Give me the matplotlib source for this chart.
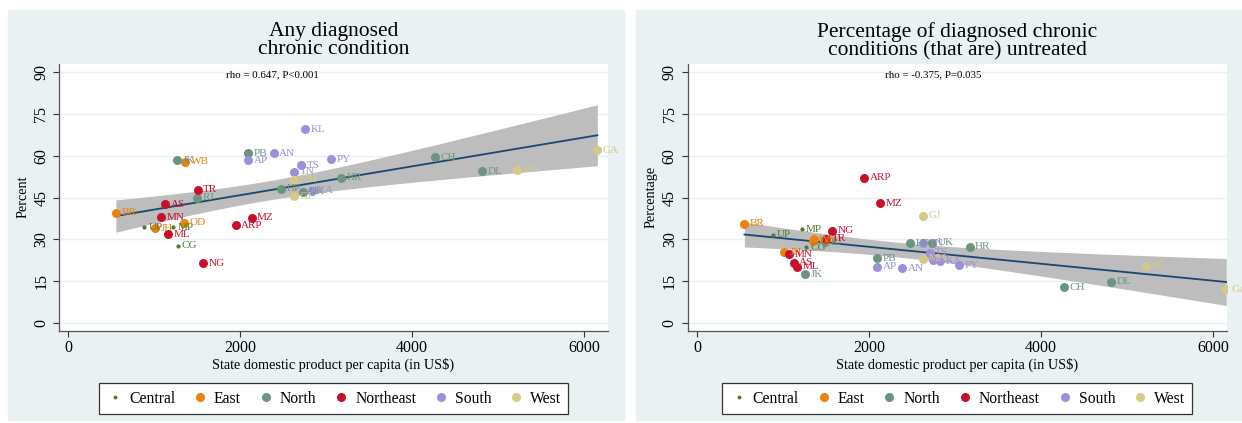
import numpy as np
import matplotlib
matplotlib.use("Agg")
import matplotlib.pyplot as plt
from matplotlib.patches import Rectangle
from matplotlib.lines import Line2D

plt.rcParams["font.family"] = ["Liberation Serif", "DejaVu Serif"]

# state codes, region and GDP per capita (US$)
states = ["UP", "MP", "CG",
          "BR", "JH", "OD", "WB",
          "JK", "PB", "HP", "UK", "HR", "DL", "CH", "RJ",
          "AS", "MN", "ML", "TR", "NG", "MZ", "ARP",
          "AP", "AN", "KL", "PY", "TS", "TN", "KA",
          "MH", "GJ", "GA", "SK"]
region = ["Central"] * 3 + ["East"] * 4 + ["North"] * 8 + ["Northeast"] * 7 + ["South"] * 7 + ["West"] * 4
sdp = [883, 1222, 1270,
       552, 1013, 1345, 1360,
       1262, 2095, 2474, 2733, 3170, 4818, 4267, 1492,
       1126, 1074, 1160, 1505, 1570, 2132, 1948,
       2093, 2390, 2750, 3052, 2707, 2629, 2831,
       2629, 2625, 6156, 5225]

# any diagnosed chronic condition (%)
any_diag = [34.3, 34.3, 27.7,
            39.5, 34.0, 36.0, 57.8,
            58.4, 60.9, 48.2, 47.0, 52.1, 54.4, 59.4, 44.9,
            42.6, 37.9, 31.8, 47.8, 21.5, 37.8, 35.0,
            58.4, 60.9, 69.4, 58.7, 56.6, 54.2, 47.4,
            51.3, 45.4, 61.9, 54.9]

# untreated among diagnosed (%)
untreated = [31.7, 33.7, 27.2,
             35.6, 25.5, 29.4, 30.0,
             17.6, 23.2, 28.6, 28.9, 27.4, 14.8, 12.9, 29.0,
             21.6, 24.7, 20.2, 30.2, 33.1, 43.0, 52.0,
             20.3, 19.7, 22.8, 20.7, 25.2, 28.6, 22.2,
             23.1, 38.5, 12.2, 20.5]

regions = ["Central", "East", "North", "Northeast", "South", "West"]
colors = {"Central": "#4f7a32", "East": "#e8830f", "North": "#6b9481",
          "Northeast": "#c8102e", "South": "#9c90dc", "West": "#d5c98a"}

panels = [
    dict(y=any_diag, title="Any diagnosed\nchronic condition", ylabel="Percent",
         note="rho = 0.647, P<0.001", note_x=2370, xmax=6280),
    dict(y=untreated, title="Percentage of diagnosed chronic\nconditions (that are) untreated",
         ylabel="Percentage", note="rho = -0.375, P=0.035", note_x=2745, xmax=6165),
]

W, H = 1242, 423
fig = plt.figure(figsize=(W / 100, H / 100), dpi=100)
bg = "#eaf1f3"

# panel background regions (pixels)
fig.patches.append(Rectangle((8 / W, 3 / H), (624 - 8) / W, (413 - 3) / H,
                             transform=fig.transFigure, color=bg, zorder=-5))
fig.patches.append(Rectangle((636 / W, 3 / H), (1242 - 636) / W, (413 - 3) / H,
                             transform=fig.transFigure, color=bg, zorder=-5))

ax_lefts = [59 / W, 687.5 / W]
ax_widths = [(608 - 59) / W, (1227 - 687.5) / W]
ax_bottom = (H - 330.5) / H
ax_height = (330.5 - 64) / H

x = np.array(sdp, dtype=float)
for k, p in enumerate(panels):
    ax = fig.add_axes([ax_lefts[k], ax_bottom, ax_widths[k], ax_height])
    ax.set_facecolor("white")
    y = np.array(p["y"], dtype=float)

    # linear fit with 95% CI of the mean
    n = len(x)
    b1, b0 = np.polyfit(x, y, 1)
    resid = y - (b0 + b1 * x)
    s = np.sqrt(np.sum(resid ** 2) / (n - 2))
    sxx = np.sum((x - x.mean()) ** 2)
    xs = np.linspace(x.min(), x.max(), 200)
    yh = b0 + b1 * xs
    se = s * np.sqrt(1 / n + (xs - x.mean()) ** 2 / sxx)
    ax.fill_between(xs, yh - 2.04 * se, yh + 2.04 * se, color="#bdbdbd", lw=0, zorder=1)
    ax.plot(xs, yh, color="#1a476f", lw=1.3, zorder=2)

    for st, rg, xi, yi in zip(states, region, x, y):
        size = 9 if rg == "Central" else 42
        ax.scatter(xi, yi, s=size, color=colors[rg], lw=0, zorder=3)
        ax.annotate(st, (xi, yi), xytext=(4 if rg != "Central" else 3, 0),
                    textcoords="offset points", va="center", ha="left",
                    fontsize=8, color=colors[rg], zorder=4)

    ax.text(p["note_x"], 89, p["note"], ha="center", va="center", fontsize=7.8)

    ax.set_xlim(-110, p["xmax"])
    ax.set_ylim(-2.6, 92.8)
    ax.set_xticks([0, 2000, 4000, 6000])
    ax.set_yticks(range(0, 91, 15))
    ax.set_yticklabels([str(v) for v in range(0, 91, 15)], rotation=90, va="center")
    ax.grid(axis="y", color=bg, lw=1)
    ax.set_axisbelow(True)
    for sp in ["top", "right"]:
        ax.spines[sp].set_visible(False)
    for sp in ["left", "bottom"]:
        ax.spines[sp].set_color("#555555")
        ax.spines[sp].set_linewidth(0.9)
    ax.tick_params(colors="#333333", labelcolor="black", labelsize=11.5, length=4, width=0.8,
                   pad=3)
    ax.set_ylabel(p["ylabel"], fontsize=10.3, labelpad=3)
    ax.set_xlabel("State domestic product per capita (in US\\$)", fontsize=10.3, labelpad=1)

    cx = ax_lefts[k] + ax_widths[k] / 2
    fig.text(cx, (H - 22) / H, p["title"], ha="center", va="top", fontsize=15.5,
             linespacing=0.95)

    handles = []
    for rg in regions:
        handles.append(Line2D([], [], marker="o", ls="", color=colors[rg],
                              markersize=2.8 if rg == "Central" else 6.5,
                              markeredgewidth=0, label=rg))
    leg = fig.legend(handles=handles, loc="center", ncol=6,
                     bbox_to_anchor=(cx, (H - 398.5) / H), fontsize=11.3,
                     frameon=True, fancybox=False, edgecolor="#333333",
                     facecolor="white", framealpha=1,
                     handletextpad=0.3, columnspacing=0.97, handlelength=1.2,
                     borderpad=0.45)
    leg.get_frame().set_linewidth(0.9)

fig.savefig("out.png", dpi=100, facecolor="white")
